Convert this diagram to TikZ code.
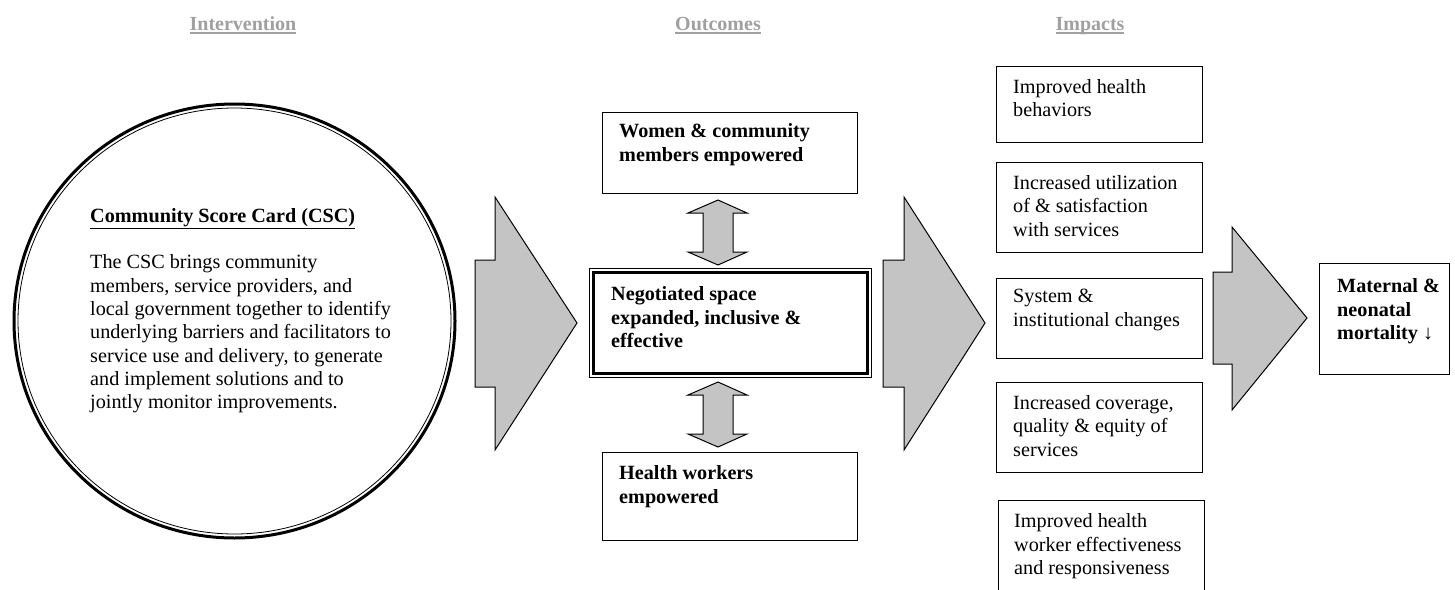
\documentclass[tikz,border=0pt]{standalone}
\usepackage{fontspec}
\setmainfont{Liberation Serif}

\definecolor{arrowfill}{RGB}{196,196,196}
\definecolor{headgray}{RGB}{160,160,160}

% thick underline for the column titles
\newcommand{\headul}[1]{\setbox0\hbox{#1}\rlap{\rule[-4pt]{\wd0}{1.6pt}}\box0}

\tikzset{
	txt/.style={font=\fontsize{20.2}{23.3}\selectfont, align=left, inner sep=0pt,
		anchor=north west, yshift=13.3pt, execute at begin node=\strut},
	box/.style={draw, line width=1.1pt, inner sep=0pt, anchor=north west},
	head/.style={font=\fontsize{20}{23}\selectfont\bfseries, text=headgray, anchor=base},
	blockarrow/.style={draw, line width=1pt, fill=arrowfill, line join=miter},
}

% double headed block arrow between two heights
\newcommand{\twoway}[2]{%
	\draw [blockarrow] (718,#1) -- (747,#1+13) -- (733,#1+13) -- (733,#2-13) -- (747,#2-13)
		-- (718,#2) -- (688,#2-13) -- (703,#2-13) -- (703,#1+13) -- (688,#1+13) -- cycle;}

\begin{document}
\begin{tikzpicture}[x=1pt, y=-1pt]
	\useasboundingbox (0,0) rectangle (1455,589);
	\clip (0,0) rectangle (1455,589);

	% column titles
	\node [head] (hint) at (243,30) {\headul{Intervention}};
	\node [head] (hout) at (718,30) {\headul{Outcomes}};
	\node [head] (himp) at (1090,30) {\headul{Impacts}};

	% intervention
	\coordinate (cscc) at (234.5,321);
	\draw [line width=3pt] (cscc) ellipse [x radius=220.5, y radius=217];
	\draw [line width=0.8pt] (cscc) ellipse [x radius=216.5, y radius=213];
	\node [txt] (csc) at (90,222) {\underline{\textbf{Community Score Card (CSC)}}\\[22.7pt]
		The CSC brings community\\
		members, service providers, and\\
		local government together to identify\\
		underlying barriers and facilitators to\\
		service use and delivery, to generate\\
		and implement solutions and to\\
		jointly monitor improvements.};

	\draw [blockarrow] (475,260) -- (495,260) -- (495,197) -- (577,323) -- (495,450) -- (495,387) -- (475,387) -- cycle;

	% outcomes
	\node [box, minimum width=255pt, minimum height=81pt] (women) at (602,112) {};
	\node [txt] (women-t) at (619,137) {\textbf{Women \& community}\\ \textbf{members empowered}};

	\node [box, line width=0.8pt, minimum width=282pt, minimum height=109pt] (space) at (589,268) {};
	\draw [line width=3.5pt] ([shift={(4.5,4.5)}]space.north west) rectangle ([shift={(-4.5,-4.5)}]space.south east);
	\node [txt] (space-t) at (611,300) {\textbf{Negotiated space}\\ \textbf{expanded, inclusive \&}\\ \textbf{effective}};

	\node [box, minimum width=255pt, minimum height=88pt] (health) at (602,452) {};
	\node [txt] (health-t) at (619,479) {\textbf{Health workers}\\ \textbf{empowered}};

	\twoway{200}{265}
	\twoway{382}{447}

	\draw [blockarrow] (883,260) -- (904,260) -- (904,197) -- (985,323) -- (904,450) -- (904,387) -- (883,387) -- cycle;

	% impacts
	\node [box, minimum width=206pt, minimum height=76pt] (imp1) at (996,66) {};
	\node [txt] (imp1-t) at (1013,92.5) {Improved health\\ behaviors};
	\node [box, minimum width=206pt, minimum height=90pt] (imp2) at (996,162) {};
	\node [txt] (imp2-t) at (1013,188.5) {Increased utilization\\ of \& satisfaction\\ with services};
	\node [box, minimum width=206pt, minimum height=80pt] (imp3) at (996,278) {};
	\node [txt] (imp3-t) at (1013,302.5) {System \&\\ institutional changes};
	\node [box, minimum width=206pt, minimum height=90pt] (imp4) at (996,382) {};
	\node [txt] (imp4-t) at (1013,408.5) {Increased coverage,\\ quality \& equity of\\ services};
	\node [box, minimum width=206pt, minimum height=100pt] (imp5) at (998,500) {};
	\node [txt] (imp5-t) at (1014,527) {Improved health\\ worker effectiveness\\ and responsiveness};

	\draw [blockarrow] (1213,272) -- (1232,272) -- (1232,227) -- (1307,318) -- (1232,410) -- (1232,364) -- (1213,364) -- cycle;

	\node [box, minimum width=130pt, minimum height=111pt] (mort) at (1319,263) {};
	\node [txt] (mort-t) at (1337,292) {\textbf{Maternal \&}\\ \textbf{neonatal}\\ \textbf{mortality ↓}};
\end{tikzpicture}
\end{document}
